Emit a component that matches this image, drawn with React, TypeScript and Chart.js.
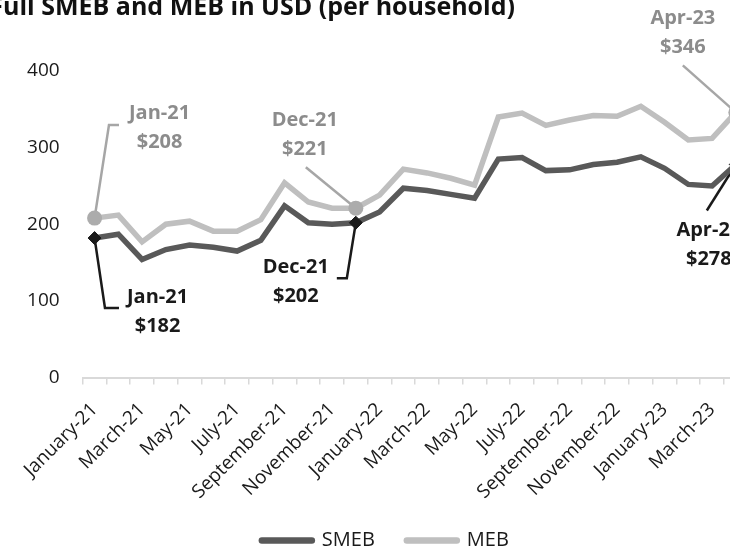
import React, { useEffect, useRef } from 'react';
import { Chart, registerables } from 'chart.js';

Chart.register(...registerables);

// ---------- data ----------
const categories = [
  'January-21', 'February-21', 'March-21', 'April-21', 'May-21', 'June-21',
  'July-21', 'August-21', 'September-21', 'October-21', 'November-21', 'December-21',
  'January-22', 'February-22', 'March-22', 'April-22', 'May-22', 'June-22',
  'July-22', 'August-22', 'September-22', 'October-22', 'November-22', 'December-22',
  'January-23', 'February-23', 'March-23', 'April-23',
];
const smebValues = [182, 187, 154, 167, 173, 170, 165, 179, 224, 202, 200, 202, 216, 247, 244, 239, 234, 285, 287, 270, 271, 278, 281, 288, 273, 252, 250, 278];
const mebValues = [208, 212, 177, 200, 204, 191, 191, 206, 254, 229, 221, 221, 238, 272, 267, 260, 251, 340, 345, 329, 336, 342, 341, 354, 333, 310, 312, 346];
const seriesNames = ['SMEB', 'MEB'];
const yTickValues = [0, 100, 200, 300, 400];
const highlightedIndices = [0, 11, 27];
const titleText = 'Full SMEB and MEB in USD (per household)';

// ---------- layout / style (not data) ----------
const OX = 20; // canvas shifted left by this much
const OY = 10; // canvas shifted up by this much
const CW = 780;
const CH = 575;
const FONT = "'Open Sans', 'DejaVu Sans', sans-serif";
const SMEB_COLOR = '#595959';
const MEB_COLOR = '#bfbfbf';
const SMEB_TEXT = '#1a1a1a';
const MEB_TEXT = '#8c8c8c';
const MEB_LEADER = '#a6a6a6';

// callout geometry relative to the marked point (series 0 = SMEB, 1 = MEB)
const callouts = [
  { series: 1, index: 0, path: [[14.4, -93], [24.4, -93]], text: [65, -105] },
  { series: 0, index: 0, path: [[10.4, 70], [24.4, 70]], text: [63, 59] },
  { series: 1, index: 11, path: [[-50, -41]], text: [-51, -88] },
  { series: 0, index: 11, path: [[-9, 55.5], [-19, 55.5]], text: [-60, 44.5] },
  { series: 1, index: 27, path: [[-53, -47]], text: [-53, -94] },
  { series: 0, index: 27, path: [[-29, 46]], text: [-27, 66] },
];

const shortLabel = (s: string) => s.slice(0, 3) + s.slice(s.indexOf('-'));

const calloutPlugin = {
  id: 'callouts',
  beforeDatasetsDraw(chart: any) {
    const ctx = chart.ctx;
    ctx.save();
    ctx.lineWidth = 2.5;
    ctx.lineJoin = 'miter';
    ctx.lineCap = 'butt';
    for (const c of callouts) {
      const pt = chart.getDatasetMeta(c.series).data[c.index];
      if (!pt) continue;
      ctx.strokeStyle = c.series === 0 ? SMEB_TEXT : MEB_LEADER;
      ctx.beginPath();
      ctx.moveTo(pt.x, pt.y);
      for (const [dx, dy] of c.path) ctx.lineTo(pt.x + dx, pt.y + dy);
      ctx.stroke();
    }
    ctx.restore();
  },
  afterDatasetsDraw(chart: any) {
    const ctx = chart.ctx;
    ctx.save();
    ctx.font = `bold 20px ${FONT}`;
    ctx.textAlign = 'center';
    ctx.textBaseline = 'middle';
    for (const c of callouts) {
      const pt = chart.getDatasetMeta(c.series).data[c.index];
      if (!pt) continue;
      const vals = c.series === 0 ? smebValues : mebValues;
      ctx.fillStyle = c.series === 0 ? SMEB_TEXT : MEB_TEXT;
      const x = pt.x + c.text[0];
      const y = pt.y + c.text[1];
      ctx.fillText(shortLabel(categories[c.index]), x, y);
      ctx.fillText('$' + vals[c.index], x, y + 29);
    }
    ctx.restore();
  },
  afterDraw(chart: any) {
    const ctx = chart.ctx;
    ctx.save();
    ctx.font = `bold 25px ${FONT}`;
    ctx.fillStyle = '#111111';
    ctx.textAlign = 'left';
    ctx.textBaseline = 'alphabetic';
    const fw = ctx.measureText(titleText.charAt(0)).width;
    ctx.fillText(titleText, OX + 3 - fw, OY + 15);
    ctx.restore();
  },
};

export default function App() {
  const canvasRef = useRef<HTMLCanvasElement | null>(null);

  useEffect(() => {
    if (!canvasRef.current) return;
    Chart.defaults.font.family = FONT;
    const isMarked = (ctx: any) => highlightedIndices.includes(ctx.dataIndex);
    const chart = new Chart(canvasRef.current, {
      type: 'line',
      data: {
        labels: categories,
        datasets: [
          {
            label: seriesNames[0],
            data: smebValues,
            borderColor: SMEB_COLOR,
            backgroundColor: SMEB_COLOR,
            borderWidth: 5.5,
            borderCapStyle: 'round',
            tension: 0,
            pointStyle: 'rectRot',
            pointRadius: (ctx: any) => (isMarked(ctx) ? 6.5 : 0),
            pointBackgroundColor: '#1a1a1a',
            pointBorderColor: '#1a1a1a',
            pointBorderWidth: 1,
          },
          {
            label: seriesNames[1],
            data: mebValues,
            borderColor: MEB_COLOR,
            backgroundColor: MEB_COLOR,
            borderWidth: 5.5,
            borderCapStyle: 'round',
            tension: 0,
            pointStyle: 'circle',
            pointRadius: (ctx: any) => (isMarked(ctx) ? 7.5 : 0),
            pointBackgroundColor: '#acacac',
            pointBorderColor: '#acacac',
            pointBorderWidth: 0,
          },
        ],
      },
      options: {
        responsive: false,
        animation: false,
        events: [],
        layout: { padding: { left: 43, right: 12.3, top: 81, bottom: 4.5 } },
        plugins: {
          title: { display: false },
          tooltip: { enabled: false },
          legend: {
            position: 'bottom',
            labels: {
              usePointStyle: true,
              pointStyle: 'line',
              pointStyleWidth: 50,
              padding: 32,
              color: '#1a1a1a',
              font: { size: 20, family: FONT },
              generateLabels: (ch: any) =>
                ch.data.datasets.map((ds: any, i: number) => ({
                  text: ds.label,
                  fillStyle: ds.borderColor,
                  strokeStyle: ds.borderColor,
                  lineWidth: 6.5,
                  lineCap: 'round',
                  pointStyle: 'line',
                  hidden: false,
                  fontColor: '#1a1a1a',
                  datasetIndex: i,
                })),
            },
          },
        },
        scales: {
          x: {
            type: 'category',
            offset: true,
            grid: {
              display: true,
              drawOnChartArea: false,
              drawTicks: true,
              tickLength: 7,
              color: '#d9d9d9',
              lineWidth: 1.5,
              offset: true,
            },
            border: { display: true, color: '#d9d9d9', width: 2 },
            ticks: {
              autoSkip: false,
              minRotation: 45,
              maxRotation: 45,
              padding: 14,
              color: '#1a1a1a',
              font: { size: 19, family: FONT },
              callback: (_v: any, i: number) => (i % 2 === 0 ? categories[i] : ''),
            },
            afterFit: (s: any) => {
              s.height = 121;
              s.paddingLeft = 0;
              s.paddingRight = 0;
            },
          },
          y: {
            min: yTickValues[0],
            max: yTickValues[yTickValues.length - 1],
            grid: { display: false, drawTicks: false },
            border: { display: false },
            ticks: {
              stepSize: yTickValues[1] - yTickValues[0],
              padding: 23,
              color: '#1a1a1a',
              font: { size: 19, family: FONT },
            },
            afterFit: (s: any) => {
              s.width = 59.7;
              s.paddingTop = 0;
              s.paddingBottom = 0;
            },
          },
        },
      },
      plugins: [calloutPlugin],
    } as any);
    return () => chart.destroy();
  }, []);

  return (
    <div
      style={{
        position: 'fixed',
        left: 0,
        top: 0,
        width: 730,
        height: 559,
        overflow: 'hidden',
        background: '#ffffff',
      }}
    >
      <canvas
        ref={canvasRef}
        width={CW}
        height={CH}
        style={{ position: 'absolute', left: -OX, top: -OY, width: CW, height: CH }}
      />
    </div>
  );
}
